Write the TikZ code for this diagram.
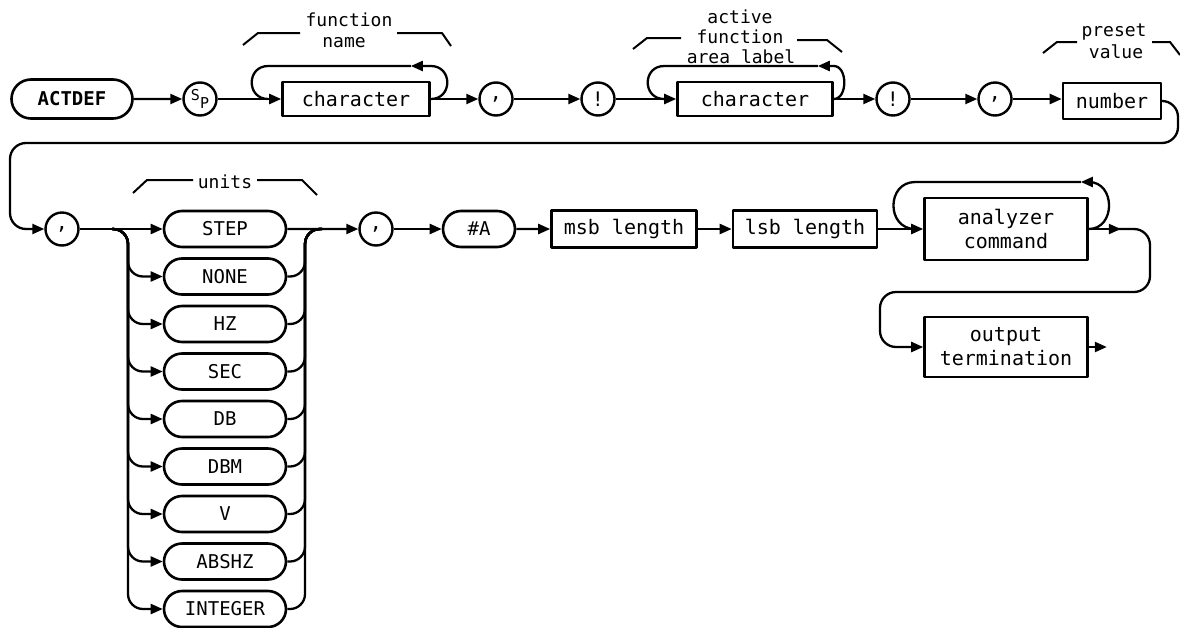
\documentclass[tikz,border=0pt]{standalone}
\usepackage{fontspec}
\newfontfamily\hpfont{DejaVu Sans Mono}
\usepackage{tikz}
\usetikzlibrary{positioning}
\usetikzlibrary{calc}
\usetikzlibrary{arrows.meta}
\usetikzlibrary{shapes.misc}

\begin{document}
\begin{tikzpicture}[x=1pt,y=-1pt,line width=2.3pt,line join=round,
  keyword/.style={draw,line width=2.6pt,rounded rectangle,minimum width=122pt,minimum height=36pt,inner sep=0pt,font=\hpfont\fontsize{19}{22}\selectfont},
  param/.style={draw,line width=2.6pt,rectangle,minimum height=34pt,inner sep=0pt,align=center,font=\hpfont\fontsize{20}{24}\selectfont},
  punct/.style={draw,line width=2.4pt,circle,minimum size=33pt,inner sep=0pt,font=\hpfont\fontsize{20}{22}\selectfont},
  note/.style={inner sep=0pt,font=\hpfont\fontsize{18}{20}\selectfont},
  tip/.style={-{Triangle[length=12pt,width=10pt]}},
  bracket/.style={line width=2pt}]
  \useasboundingbox (0,0) rectangle (1180,627);

  % first line
  \node[keyword,minimum width=121pt,minimum height=39pt,font=\hpfont\bfseries\fontsize{19}{22}\selectfont] (actdef) at (72,99) {ACTDEF};
  \node[punct] (sp) at (200,99) {\fontsize{15}{15}\selectfont\raisebox{3pt}{S}\raisebox{-5pt}{P}};
  \node[param,minimum width=147pt] (name) at (356,99) {character};
  \node[punct] (comma1) at (496,99) {,};
  \node[punct] (bang1) at (598,99) {!};
  \node[param,minimum width=155pt] (label) at (755,99) {character};
  \node[punct] (bang2) at (893,99) {!};
  \node[punct] (comma2) at (995,99) {,};
  \node[param,minimum width=98pt,minimum height=36pt] (preset) at (1112,101) {number};

  \draw[tip] (actdef) -- (sp);
  \draw[tip] (sp) -- (name);
  \draw[tip] (name) -- (comma1);
  \draw[tip] (comma1) -- (bang1);
  \draw[tip] (bang1) -- (label);
  \draw[tip] (label) -- (bang2);
  \draw[tip] (bang2) -- (comma2);
  \draw[tip] (comma2) -- (preset.west |- comma2);

  % repeat loops
  \draw[tip] (name.east) .. controls +(22,0) and +(22,0) .. ($(name.east)+(0,-33)$) -- ($(name.east)+(-20,-33)$);
  \draw ($(name.east)+(-20,-33)$) -- ($(name.west)+(-13,-33)$) .. controls +(-22,0) and +(-22,0) .. ($(name.west)+(-13,0)$);
  \draw[tip] (label.east) .. controls +(14,0) and +(14,0) .. ($(label.east)+(0,-33)$) -- ($(label.east)+(-16,-33)$);
  \draw ($(label.east)+(-16,-33)$) -- ($(label.west)+(-12,-33)$) .. controls +(-22,0) and +(-22,0) .. ($(label.west)+(-12,0)$);

  % labels
  \node[note] (fnname1) at (349,20) {function};
  \node[note] (fnname2) at (344,43) {name};
  \draw[bracket] (243,45) -- (258,33) -- (300,33);
  \draw[bracket] (397,33) -- (442,33) -- (451,46);
  \node[note] (area1) at (740,17) {active};
  \node[note] (area2) at (740,37) {function};
  \node[note] (area3) at (741,57) {area label};
  \draw[bracket] (633,49) -- (647,38) -- (681,38);
  \draw[bracket] (797,40) -- (827,40) -- (842,52);
  \node[note] (value1) at (1114,32) {preset};
  \node[note] (value2) at (1116,52) {value};
  \draw[bracket] (1043,53) -- (1057,42) -- (1077,42);
  \draw[bracket] (1152,42) -- (1170,42) -- (1180,55);
  \node[note] (units) at (225,182) {units};
  \draw[bracket] (133,193) -- (147,180) -- (193,180);
  \draw[bracket] (257,180) -- (302,180) -- (317,195);

  % second line
  \node[punct] (comma4) at (62,229) {,};
  \node[keyword] (step) at (225,229) {STEP};
  \node[keyword] (none) at (225,276.5) {NONE};
  \node[keyword] (hz) at (225,324) {HZ};
  \node[keyword] (sec) at (225,371.5) {SEC};
  \node[keyword] (db) at (225,419) {DB};
  \node[keyword] (dbm) at (225,466.5) {DBM};
  \node[keyword] (volt) at (225,514) {V};
  \node[keyword] (abshz) at (225,561.5) {ABSHZ};
  \node[keyword] (integer) at (225,609) {INTEGER};
  \node[punct] (comma5) at (376,229) {,};
  \node[keyword,minimum width=72pt] (hasha) at (479,229) {\#A};
  \node[param,minimum width=145pt,minimum height=37pt] (msb) at (624,229) {msb length};
  \node[param,minimum width=144pt,minimum height=37pt] (lsb) at (805,229) {lsb length};
  \node[param,minimum width=163pt,minimum height=62pt] (cmd) at (1006,229) {analyzer\\command};
  \node[param,minimum width=163pt,minimum height=60pt] (term) at (1006,347) {output\\termination};

  % back to second line
  \draw[tip,rounded corners=16pt] (preset.east) -- (1178,101) -- (1178,143) -- (10,143) -- (10,229) -- (comma4);

  \draw[tip] (comma4) -- (step);
  \draw[tip] (step) -- (comma5);
  \draw[tip] (comma5) -- (hasha);
  \draw[tip] (hasha) -- (msb);
  \draw[tip] (msb) -- (lsb);
  \draw[tip] (lsb) -- (cmd);

  % unit choices
  \draw[tip,rounded corners=15pt] (112,229) -- (128,229) |- (none);
  \draw[tip,rounded corners=15pt] (112,229) -- (128,229) |- (hz);
  \draw[tip,rounded corners=15pt] (112,229) -- (128,229) |- (sec);
  \draw[tip,rounded corners=15pt] (112,229) -- (128,229) |- (db);
  \draw[tip,rounded corners=15pt] (112,229) -- (128,229) |- (dbm);
  \draw[tip,rounded corners=15pt] (112,229) -- (128,229) |- (volt);
  \draw[tip,rounded corners=15pt] (112,229) -- (128,229) |- (abshz);
  \draw[tip,rounded corners=15pt] (112,229) -- (128,229) |- (integer);
  \draw[rounded corners=15pt] (none) -| (305,229) -- (322,229);
  \draw[rounded corners=15pt] (hz) -| (305,229) -- (322,229);
  \draw[rounded corners=15pt] (sec) -| (305,229) -- (322,229);
  \draw[rounded corners=15pt] (db) -| (305,229) -- (322,229);
  \draw[rounded corners=15pt] (dbm) -| (305,229) -- (322,229);
  \draw[rounded corners=15pt] (volt) -| (305,229) -- (322,229);
  \draw[rounded corners=15pt] (abshz) -| (305,229) -- (322,229);
  \draw[rounded corners=15pt] (integer) -| (305,229) -- (322,229);

  % command loop and termination
  \draw[tip] (cmd.east) .. controls +(27,0) and +(27,0) .. ($(cmd.east)+(0,-47)$) -- ($(cmd.east)+(-8,-47)$);
  \draw ($(cmd.east)+(-8,-47)$) -- ($(cmd.west)+(-8,-47)$) .. controls +(-29,0) and +(-29,0) .. ($(cmd.west)+(-8,0)$);
  \draw[tip] (cmd.east) -- ++(32,0);
  \draw[tip,rounded corners=16pt] ($(cmd.east)+(28,0)$) -- (1150,229) -- (1150,292) -- (880,292) -- (880,347) -- (term);
  \draw[tip] (term.east) -- ++(18,0);
\end{tikzpicture}
\end{document}
